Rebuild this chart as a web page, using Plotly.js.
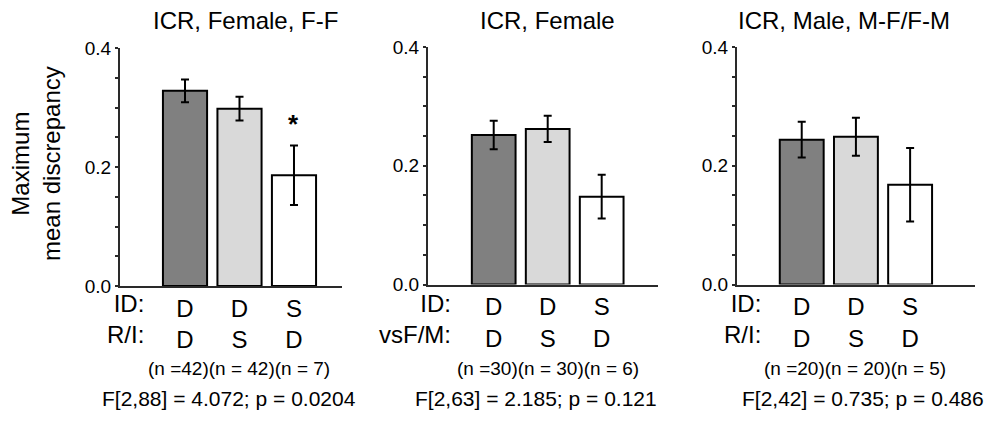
<!DOCTYPE html>
<html>
<head>
<meta charset="utf-8">
<script src="https://cdn.plot.ly/plotly-3.0.1.min.js"></script>
<style>
  html, body { margin: 0; padding: 0; background: #ffffff; }
  #chart { width: 990px; height: 421px; }
</style>
</head>
<body>
<div id="chart"></div>
<script>
// Panel titles and category rows
const panelTitles = ['ICR, Female, F-F', 'ICR, Female', 'ICR, Male, M-F/F-M'];
const identityRow = ['D', 'D', 'S'];
const partnerRow = ['D', 'S', 'D'];
const rowHeaders = [['ID:', 'R/I:'], ['ID:', 'vsF/M:'], ['ID:', 'R/I:']];

// Maximum mean discrepancy (mean and s.e.m.) per group
const meansFF = [0.328, 0.298, 0.186];
const semFF = [0.019, 0.020, 0.050];
const meansFemale = [0.252, 0.262, 0.148];
const semFemale = [0.024, 0.022, 0.037];
const meansMale = [0.244, 0.249, 0.168];
const semMale = [0.030, 0.032, 0.062];

// Group sizes
const countsFF = [42, 42, 7];
const countsFemale = [30, 30, 6];
const countsMale = [20, 20, 5];

// ANOVA results
const statsText = [
  'F[2,88] = 4.072; p = 0.0204',
  'F[2,63] = 2.185; p = 0.121',
  'F[2,42] = 0.735; p = 0.486'
];

// Significance marks per bar
const marksFF = ['', '', '*'];

const barColors = ['#808080', '#d9d9d9', '#ffffff'];
const FONT = 'Liberation Sans, Arial, Helvetica, sans-serif';
const W = 990, H = 421;
const px = v => v / W;
const py = v => 1 - v / H;

const panels = [
  { means: meansFF, sem: semFF, counts: countsFF, marks: marksFF,
    x0: 120, x1: 342, yTop: 48, yBot: 286, range: [-1.193, 2.881],
    titleX: 245, headerX: 146, nX: 239, statX: 229 },
  { means: meansFemale, sem: semFemale, counts: countsFemale, marks: ['', '', ''],
    x0: 428, x1: 658, yTop: 47, yBot: 284.5, range: [-1.217, 3.043],
    titleX: 547, headerX: 453, nX: 548, statX: 536 },
  { means: meansMale, sem: semMale, counts: countsMale, marks: ['', '', ''],
    x0: 737, x1: 975, yTop: 47, yBot: 284.5, range: [-1.194, 3.197],
    titleX: 844, headerX: 763, nX: 855, statX: 863 }
];

const xs = [0, 1, 2];
const AXIS_COLOR = '#2a2a2a';

const traces = [];
const annotations = [];
const layout = {
  width: W, height: H,
  margin: { l: 0, r: 0, t: 0, b: 0 },
  paper_bgcolor: '#ffffff',
  plot_bgcolor: '#ffffff',
  showlegend: false,
  font: { family: FONT, color: '#000000' },
  annotations: annotations
};

function countLabel(counts) {
  return counts.map((n, i) => (i === 0 ? '(n =' + n + ')' : '(n = ' + n + ')')).join('');
}

panels.forEach((p, k) => {
  const sfx = k === 0 ? '' : String(k + 1);
  const xa = 'x' + sfx, ya = 'y' + sfx;

  traces.push({
    type: 'bar',
    x: xs,
    y: p.means,
    width: 0.81,
    xaxis: xa, yaxis: ya,
    marker: { color: barColors, line: { color: '#000000', width: 2 } },
    error_y: { type: 'data', array: p.sem, visible: true, color: '#000000', thickness: 2, width: 4 },
    hoverinfo: 'skip'
  });

  layout['xaxis' + sfx] = {
    domain: [px(p.x0), px(p.x1)],
    range: p.range,
    anchor: ya,
    showgrid: false, zeroline: false,
    showline: true, linecolor: AXIS_COLOR, linewidth: 2,
    ticks: '',
    tickmode: 'array',
    tickvals: xs,
    ticktext: xs.map(i => identityRow[i] + '<br>' + partnerRow[i]),
    tickfont: { family: FONT, size: 24, color: '#000000' },
    ticklabelstandoff: 0,
    fixedrange: true
  };

  layout['yaxis' + sfx] = {
    domain: [py(p.yBot), py(p.yTop)],
    range: [0, 0.4],
    anchor: xa,
    showgrid: false, zeroline: false,
    showline: true, linecolor: AXIS_COLOR, linewidth: 2,
    tickmode: 'linear', tick0: 0, dtick: 0.2, tickformat: '.1f',
    ticks: 'outside', ticklen: 3, tickwidth: 2, tickcolor: AXIS_COLOR,
    minor: { dtick: 0.05, ticks: 'outside', ticklen: 3, tickwidth: 2, tickcolor: AXIS_COLOR, showgrid: false },
    tickfont: { family: FONT, size: 19, color: '#000000' },
    fixedrange: true
  };

  // Panel title
  annotations.push({
    xref: 'paper', yref: 'paper', x: px(p.titleX), y: py(21),
    xanchor: 'center', yanchor: 'middle', showarrow: false,
    text: panelTitles[k], font: { family: FONT, size: 24, color: '#000000' }
  });

  // Row headers for the category rows
  annotations.push({
    xref: 'paper', yref: 'paper', x: px(p.headerX), y: py(319),
    xanchor: 'right', yanchor: 'middle', align: 'right', showarrow: false,
    text: rowHeaders[k].join('<br>'), font: { family: FONT, size: 24, color: '#000000' }
  });

  // Group sizes
  annotations.push({
    xref: 'paper', yref: 'paper', x: px(p.nX), y: py(368),
    xanchor: 'center', yanchor: 'middle', showarrow: false,
    text: countLabel(p.counts), font: { family: FONT, size: 19, color: '#000000' }
  });

  // ANOVA summary
  annotations.push({
    xref: 'paper', yref: 'paper', x: px(p.statX), y: py(398),
    xanchor: 'center', yanchor: 'middle', showarrow: false,
    text: statsText[k], font: { family: FONT, size: 21, color: '#000000' }
  });

  // Significance marks above bars
  p.marks.forEach((m, i) => {
    if (!m) return;
    annotations.push({
      xref: xa, yref: ya, x: xs[i], y: p.means[i] + p.sem[i] + 0.008,
      xanchor: 'center', yanchor: 'bottom', showarrow: false,
      text: '<b>' + m + '</b>', font: { family: FONT, size: 26, color: '#000000' }
    });
  });
});

// Shared y-axis title
annotations.push({
  xref: 'paper', yref: 'paper', x: px(36), y: py(164),
  xanchor: 'center', yanchor: 'middle', showarrow: false, textangle: -90,
  text: 'Maximum<br>mean discrepancy', font: { family: FONT, size: 24, color: '#000000' }
});

Plotly.newPlot('chart', traces, layout, { displayModeBar: false, staticPlot: true });
</script>
</body>
</html>
